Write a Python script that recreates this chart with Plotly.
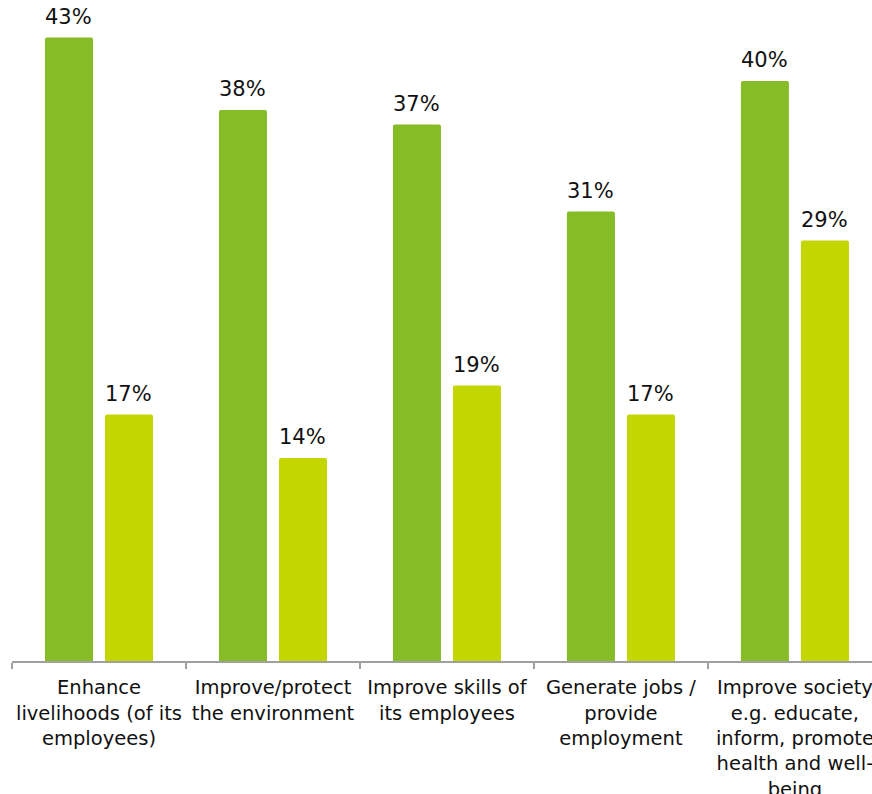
import plotly.graph_objects as go

categories = [
    "Enhance<br>livelihoods (of its<br>employees)",
    "Improve/protect<br>the environment",
    "Improve skills of<br>its employees",
    "Generate jobs /<br>provide<br>employment",
    "Improve society<br>e.g. educate,<br>inform, promote<br>health and well-<br>being",
]
series_a = [43, 38, 37, 31, 40]
series_b = [17, 14, 19, 17, 29]

FONT = "DejaVu Sans, Verdana, sans-serif"

fig = go.Figure()
fig.add_trace(go.Bar(
    x=categories, y=series_a, marker=dict(color="#86BC25", cornerradius=2, line=dict(width=0)),
    name="A",
))
fig.add_trace(go.Bar(
    x=categories, y=series_b, marker=dict(color="#C4D600", cornerradius=2, line=dict(width=0)),
    name="B",
))

for series, dx in ((series_a, -30), (series_b, 30)):
    for c, v in zip(categories, series):
        fig.add_annotation(
            x=c, y=v, text=f"{v}%", showarrow=False, xanchor="center", yanchor="bottom",
            xshift=dx, yshift=7, font=dict(size=21, color="#111111", family=FONT),
        )

W, H = 872, 794
fig.update_layout(
    width=W, height=H,
    margin=dict(l=12, r=0, t=10, b=133),
    barmode="group", bargap=0.31, bargroupgap=0.2,
    plot_bgcolor="white", paper_bgcolor="white",
    showlegend=False,
    font=dict(family=FONT, size=19.5, color="#111111"),
)
fig.update_xaxes(
    range=[-0.5, 4.443], automargin=False,
    showline=True, linecolor="#A0A0A0", linewidth=2,
    ticks="outside", tickson="boundaries", ticklen=6, tickcolor="#A0A0A0", tickwidth=2,
    ticklabelstandoff=8,
    tickfont=dict(size=19.5, family=FONT, color="#111111"),
    showgrid=False, tickangle=0,
)
fig.update_yaxes(range=[0, 44.9], visible=False, showgrid=False)

fig.write_html("out.html")
